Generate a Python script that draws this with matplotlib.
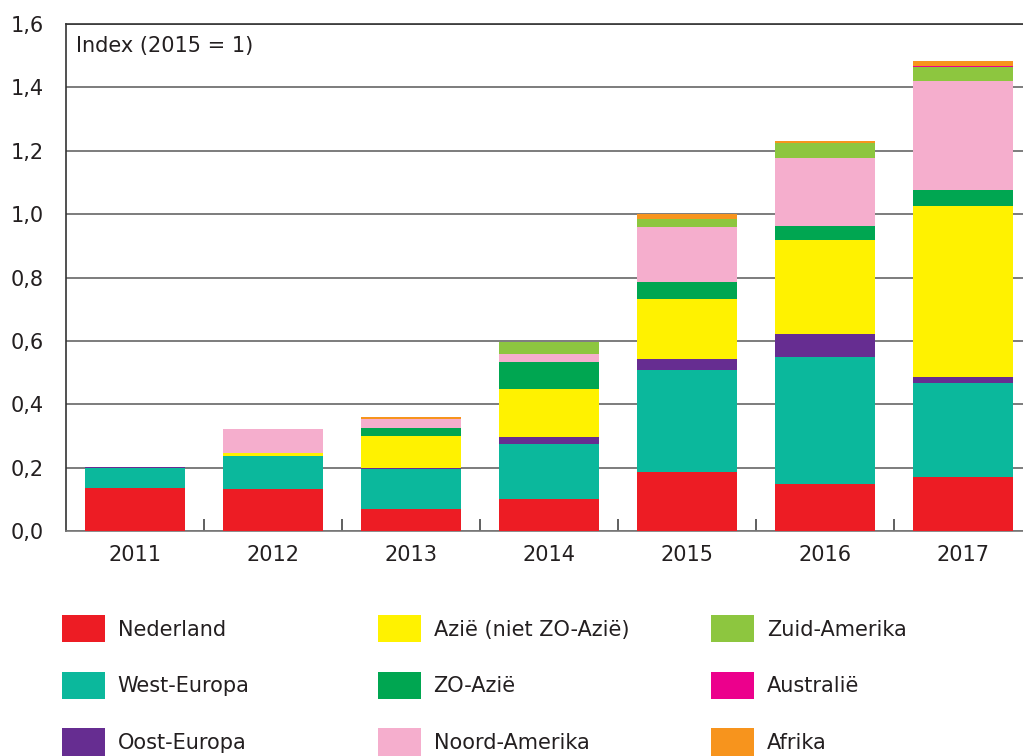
import matplotlib.pyplot as plt
import numpy as np

# data (stacked index values, 2015 = 1)
years = ['2011', '2012', '2013', '2014', '2015', '2016', '2017']
regions = ['Nederland', 'West-Europa', 'Oost-Europa',
           'Azië (niet ZO-Azië)', 'ZO-Azië', 'Noord-Amerika',
           'Zuid-Amerika', 'Australië', 'Afrika']
colors = ['#ED1C24', '#0BB89C', '#662D91',
          '#FFF200', '#00A651', '#F5AECD',
          '#8DC63F', '#EC008C', '#F7941D']

nederland = [0.136, 0.131, 0.069, 0.101, 0.187, 0.149, 0.170]
west_europa = [0.064, 0.107, 0.128, 0.172, 0.322, 0.399, 0.297]
oost_europa = [0.002, 0.000, 0.003, 0.024, 0.035, 0.073, 0.018]
azie = [0.000, 0.008, 0.099, 0.152, 0.189, 0.298, 0.540]
zo_azie = [0.000, 0.000, 0.026, 0.084, 0.054, 0.042, 0.050]
noord_amerika = [0.000, 0.077, 0.028, 0.027, 0.171, 0.215, 0.345]
zuid_amerika = [0.000, 0.000, 0.000, 0.035, 0.026, 0.047, 0.044]
australie = [0.000, 0.000, 0.000, 0.000, 0.000, 0.000, 0.003]
afrika = [0.000, 0.000, 0.008, 0.003, 0.016, 0.008, 0.015]

series = [nederland, west_europa, oost_europa, azie, zo_azie,
          noord_amerika, zuid_amerika, australie, afrika]

yticks = [0.0, 0.2, 0.4, 0.6, 0.8, 1.0, 1.2, 1.4, 1.6]
ytick_labels = ['0,0', '0,2', '0,4', '0,6', '0,8', '1,0', '1,2', '1,4', '1,6']

plt.rcParams['font.family'] = ['DejaVu Sans']
text_color = '#231F20'

W, H = 1023, 756
fig = plt.figure(figsize=(W / 100, H / 100), dpi=100)
# axes area in pixels: left 66, right ~1032 (runs past the image), top 24, bottom 531
ax = fig.add_axes([66 / W, (H - 531) / H, (1032 - 66) / W, (531 - 24) / H])

x = np.arange(len(years))
bottom = np.zeros(len(years))
handles = []
for name, vals, col in zip(regions, series, colors):
    b = ax.bar(x, vals, width=0.725, bottom=bottom, color=col,
               edgecolor='none', label=name, zorder=3)
    handles.append(b)
    bottom = bottom + np.array(vals)

ax.set_xlim(-0.5, len(years) - 0.5)
ax.set_ylim(0, 1.6)
ax.set_yticks(yticks)
ax.set_yticklabels(ytick_labels)
ax.set_xticks(x)
ax.set_xticklabels(years)
ax.set_xticks(x[:-1] + 0.5, minor=True)

ax.tick_params(axis='y', length=0, pad=16, labelsize=15, labelcolor=text_color)
ax.tick_params(axis='x', which='major', length=0, pad=10, labelsize=15,
               labelcolor=text_color)
ax.tick_params(axis='x', which='minor', direction='in', length=9,
               width=1.2, color='#444444')

ax.grid(axis='y', color='#666666', linewidth=1.2, zorder=0)
ax.set_axisbelow(True)
for side in ['left', 'top']:
    ax.spines[side].set_color('#333333')
    ax.spines[side].set_linewidth(1.2)
ax.spines['bottom'].set_color('#777777')
ax.spines['bottom'].set_linewidth(1.2)
ax.spines['right'].set_visible(False)

ax.text(-0.5 + 10 / 138, 1.53, 'Index (2015 = 1)', fontsize=15,
        color=text_color, va='center', ha='left')

# legend: three columns, filled column by column in stacking order
col_x = [62, 378, 711]
for c in range(3):
    fig.legend(handles[3 * c:3 * c + 3], regions[3 * c:3 * c + 3],
               loc='upper left', bbox_to_anchor=(col_x[c] / W, 1 - 615 / H),
               frameon=False, fontsize=15, borderpad=0, borderaxespad=0,
               handlelength=2.05, handleheight=1.65, handletextpad=0.62,
               labelspacing=1.4, labelcolor=text_color)

fig.savefig('out.png', dpi=100)
